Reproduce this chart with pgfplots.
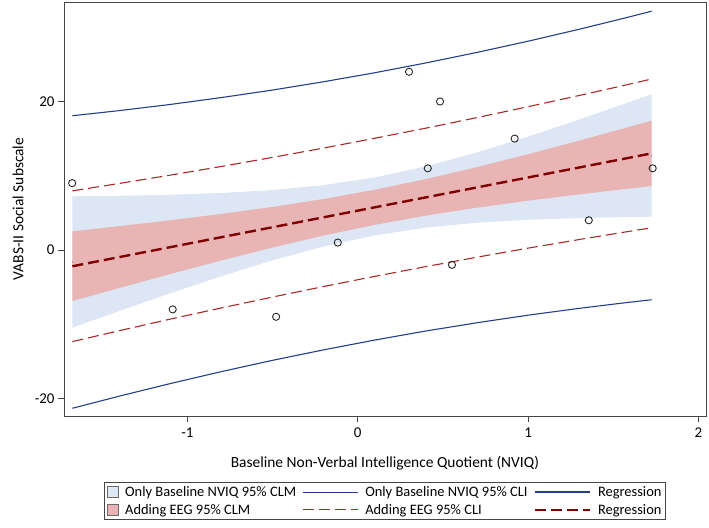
\documentclass[border=0pt]{standalone}
\usepackage{fontspec}
\setmainfont{Carlito}
\usepackage{pgfplots}
\pgfplotsset{compat=1.18}

\definecolor{clmblue}{RGB}{220,230,244}
\definecolor{clmred}{RGB}{232,180,180}
\definecolor{cliblue}{RGB}{36,62,140}
\definecolor{clired}{RGB}{168,40,42}
\definecolor{regred}{RGB}{128,0,0}
\definecolor{frame}{RGB}{70,70,70}

\begin{document}
\begin{tikzpicture}
\begin{axis}[
    name=ax,
    scale only axis, width=642bp, height=414bp,
    xmin=-1.724, xmax=2.044, ymin=-22.36, ymax=33.4,
    axis line style={draw=frame, line width=0.8pt},
    xtick={-1,0,1,2}, ytick={-20,0,20},
    tick align=outside, tick pos=left, major tick length=6bp,
    tick style={frame, line width=0.8pt},
    ticklabel style={font=\fontsize{15}{17}\selectfont},
    xticklabel style={yshift=-2bp},
    /pgf/number format/assume math mode=true,
    xlabel={Baseline Non-Verbal Intelligence Quotient (NVIQ)},
    ylabel={VABS-II Social Subscale},
    label style={font=\fontsize{15.5}{17}\selectfont},
    xlabel style={at={(axis description cs:0.5,-0.1135)}, anchor=center},
    ylabel style={at={(axis description cs:-0.0717,0.5)}, anchor=center},
    legend columns=3, legend cell align=left,
    legend image code/.code={\draw[#1] (0bp,0bp) -- (55bp,0bp);},
    legend style={at={(axis description cs:0.5,-0.16)}, anchor=north,
        draw=frame, line width=0.8pt, inner sep=2pt, row sep=2pt,
        font=\fontsize{14.5}{17}\selectfont,
        /tikz/every odd column/.append style={column sep=5bp},
        /tikz/every even column/.append style={column sep=4bp}},
]

% only baseline NVIQ: 95% CLM band
\addplot[fill=clmblue, draw=none, forget plot] coordinates {
 (-1.675,7.23) (-1.4,7.30) (-1.1,7.44) (-0.8,7.68) (-0.5,8.07) (-0.2,8.73) (0.1,9.77)
 (0.4,11.26) (0.7,13.14) (1.0,15.27) (1.3,17.57) (1.55,19.56) (1.725,20.98)
 (1.725,4.48) (1.55,4.43) (1.3,4.30) (1.0,4.07) (0.7,3.67) (0.4,3.02) (0.1,1.97)
 (-0.2,0.48) (-0.5,-1.39) (-0.8,-3.53) (-1.1,-5.83) (-1.4,-8.22) (-1.675,-10.46)
} -- cycle;

% only baseline NVIQ: regression (covered by the EEG band)
\addplot[cliblue, line width=2.2pt, forget plot] coordinates {
 (-1.675,-1.62) (1.725,12.73)
};

% adding EEG: 95% CLM band
\addplot[fill=clmred, draw=none, forget plot] coordinates {
 (-1.675,2.51) (-1.4,3.21) (-1.1,4.00) (-0.8,4.86) (-0.5,5.80) (-0.2,6.87) (0.1,8.11)
 (0.4,9.55) (0.7,11.16) (1.0,12.90) (1.3,14.73) (1.55,16.30) (1.725,17.41)
 (1.725,8.61) (1.55,8.16) (1.3,7.49) (1.0,6.64) (0.7,5.70) (0.4,4.63) (0.1,3.39)
 (-0.2,1.95) (-0.5,0.33) (-0.8,-1.41) (-1.1,-3.24) (-1.4,-5.12) (-1.675,-6.88)
} -- cycle;

% only baseline NVIQ: 95% CLI
\addplot[cliblue, line width=1.1pt, forget plot] coordinates {
 (-1.675,18.08) (-1.4,18.77) (-1.1,19.60) (-0.8,20.53) (-0.5,21.54) (-0.2,22.66) (0.1,23.87)
 (0.4,25.19) (0.7,26.61) (1.0,28.12) (1.3,29.73) (1.55,31.14) (1.725,32.16)
};
\addplot[cliblue, line width=1.1pt, forget plot] coordinates {
 (-1.675,-21.32) (-1.4,-19.69) (-1.1,-17.99) (-0.8,-16.38) (-0.5,-14.86) (-0.2,-13.45) (0.1,-12.13)
 (0.4,-10.91) (0.7,-9.80) (1.0,-8.78) (1.3,-7.86) (1.55,-7.16) (1.725,-6.70)
};

% adding EEG: 95% CLI
\addplot[clired, line width=1.1pt, dash pattern=on 11bp off 5bp, forget plot] coordinates {
 (-1.675,7.96) (-1.4,8.96) (-1.1,10.08) (-0.8,11.25) (-0.5,12.47) (-0.2,13.73) (0.1,15.05)
 (0.4,16.41) (0.7,17.83) (1.0,19.30) (1.3,20.81) (1.55,22.10) (1.725,23.03)
};
\addplot[clired, line width=1.1pt, dash pattern=on 11bp off 5bp, forget plot] coordinates {
 (-1.675,-12.34) (-1.4,-10.87) (-1.1,-9.31) (-0.8,-7.80) (-0.5,-6.34) (-0.2,-4.92) (0.1,-3.55)
 (0.4,-2.24) (0.7,-0.97) (1.0,0.25) (1.3,1.41) (1.55,2.35) (1.725,2.99)
};

% adding EEG: regression
\addplot[regred, line width=2.4pt, dash pattern=on 11bp off 5bp, forget plot] coordinates {
 (-1.675,-2.19) (1.725,13.01)
};

% observations
\addplot[only marks, mark=o, mark size=3.6pt, mark options={black!85, line width=0.9pt}, forget plot] coordinates {
 (-1.676,9) (-1.086,-8) (-0.479,-9) (-0.117,1) (0.301,24) (0.411,11)
 (0.483,20) (0.553,-2) (0.921,15) (1.356,4) (1.731,11)
};

\addlegendimage{legend image code/.code={\draw[fill=clmblue, draw=frame!80, line width=0.6pt] (0bp,-5bp) rectangle (11bp,6bp);}}
\addlegendentry{Only Baseline NVIQ 95\% CLM}
\addlegendimage{cliblue, line width=1.1pt}
\addlegendentry{Only Baseline NVIQ 95\% CLI}
\addlegendimage{cliblue, line width=2.2pt}
\addlegendentry{Regression}
\addlegendimage{legend image code/.code={\draw[fill=clmred, draw=frame!80, line width=0.6pt] (0bp,-5bp) rectangle (11bp,6bp);}}
\addlegendentry{Adding EEG 95\% CLM}
\addlegendimage{clired, line width=1.1pt, dash pattern=on 11bp off 5bp}
\addlegendentry{Adding EEG 95\% CLI}
\addlegendimage{regred, line width=2.4pt, dash pattern=on 11bp off 5bp}
\addlegendentry{Regression}
\end{axis}
\pgfresetboundingbox
\path[use as bounding box] ([xshift=-64bp,yshift=-112bp]ax.south west)
    rectangle ([xshift=3bp,yshift=2bp]ax.north east);
\end{tikzpicture}
\end{document}
